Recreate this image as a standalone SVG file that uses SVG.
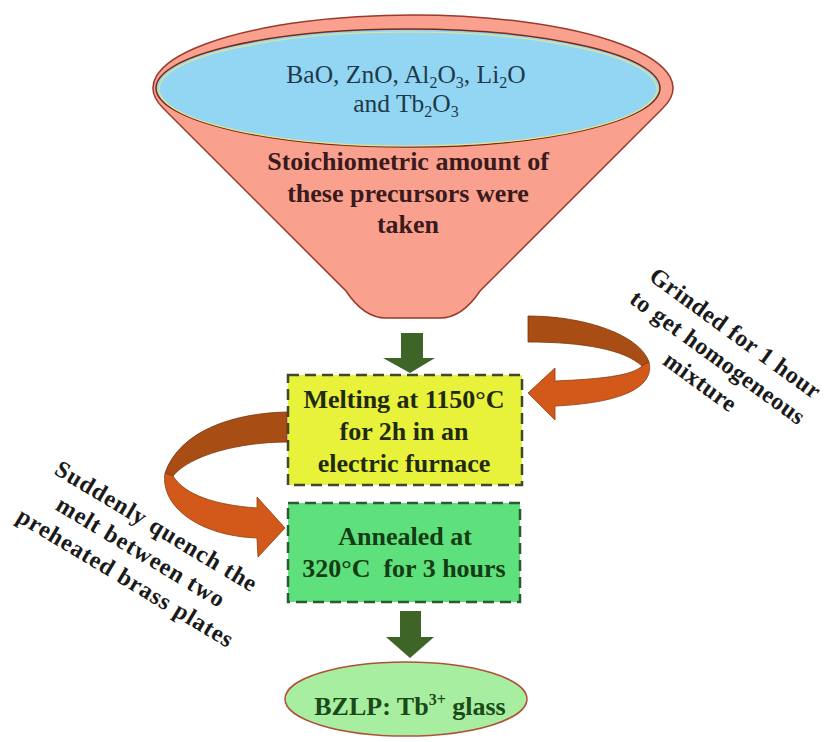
<svg xmlns="http://www.w3.org/2000/svg" width="830" height="742" viewBox="0 0 830 742">
<style>
text{font-family:"Liberation Serif","Times New Roman",serif;text-anchor:middle}
.b{font-weight:bold;font-size:26px}
.n{font-size:25.5px;fill:#1E3A4A}
.lab{font-weight:bold;font-size:24px;fill:#1a1a1a;letter-spacing:0.9px}
.gar{fill:#3E6428}
.back{fill:#A84E14;stroke:#7a350c;stroke-width:0.8}
.front{fill:#D2591A;stroke:#8a3c0e;stroke-width:0.8}
</style>
<rect width="830" height="742" fill="#ffffff"/>
<g id="funnel">
<path d="M163,108 A260,73 0 1 1 663,108 L480,291 Q462,318 440,318 L386,318 Q364,318 346,291 Z" fill="#F9A08F" stroke="#9b3a2a" stroke-width="1.5"/>
<ellipse cx="408" cy="88" rx="252" ry="59" fill="#93D6F3" stroke="#7a2a1a" stroke-width="1.5"/>
<ellipse cx="408" cy="89" rx="249" ry="57" fill="none" stroke="#E6E48A" stroke-width="1.2"/>
<text class="n" x="406" y="83">BaO, ZnO, Al<tspan font-size="16" dy="5">2</tspan><tspan dy="-5">O</tspan><tspan font-size="16" dy="5">3</tspan><tspan dy="-5">, Li</tspan><tspan font-size="16" dy="5">2</tspan><tspan dy="-5">O</tspan></text>
<text class="n" x="406" y="112">and Tb<tspan font-size="16" dy="5">2</tspan><tspan dy="-5">O</tspan><tspan font-size="16" dy="5">3</tspan></text>
<text class="b" x="408" y="170" fill="#3A1A1A">Stoichiometric amount of</text>
<text class="b" x="408" y="202" fill="#3A1A1A">these precursors were</text>
<text class="b" x="408" y="233" fill="#3A1A1A">taken</text>
</g>
<g id="melting">
<rect x="288" y="375" width="234" height="110" fill="#E8F23A" stroke="#3d4a2a" stroke-width="2.5" stroke-dasharray="11 6"/>
<text class="b" x="404" y="408" fill="#1f2a10">Melting at 1150°C</text>
<text class="b" x="404" y="440" fill="#1f2a10">for 2h in an</text>
<text class="b" x="404" y="472" fill="#1f2a10">electric furnace</text>
</g>
<g id="annealing">
<rect x="288" y="503" width="232" height="99" fill="#5EE07C" stroke="#2d5a33" stroke-width="2.5" stroke-dasharray="11 6"/>
<text class="b" x="405" y="545" fill="#143c14">Annealed at</text>
<text class="b" x="404" y="577" fill="#143c14" xml:space="preserve">320°C  for 3 hours</text>
</g>
<g id="product">
<ellipse cx="406" cy="699" rx="121" ry="37" fill="#A8EEA0" stroke="#B0503A" stroke-width="1.5"/>
<text class="b" x="410" y="715" fill="#1a4a1a">BZLP: Tb<tspan font-size="16" dy="-10">3+</tspan><tspan dy="10"> glass</tspan></text>
</g>
<g id="label-grinding" transform="translate(735,334) rotate(36)">
<text class="lab" x="0" y="7" style="letter-spacing:0.5px">Grinded for 1 hour</text>
<text class="lab" x="0" y="37" style="letter-spacing:0.5px">to get homogeneous</text>
<text class="lab" x="0" y="67" style="letter-spacing:0.5px">mixture</text>
</g>
<g id="label-quench" transform="translate(156,527) rotate(31)">
<text class="lab" x="0" y="7">Suddenly quench the</text>
<text class="lab" x="0" y="37">melt between two</text>
<text class="lab" x="0" y="67">preheated brass plates</text>
</g>
<g id="connectors">
<polygon class="gar" points="401,333 423,333 423,358 435,358 410,373 383,358 401,358"/>
<polygon class="gar" points="400,611 421,611 421,637 434,637 410,658 386,637 400,637"/>
<path class="back" d="M528,316 C585,316 640,335 649,362 L642,366 C625,350 585,342 528,342 Z"/>
<path class="front" d="M649,362 C655,388 620,403 555,406 L555,420 L528,393 L555,368 L555,381 C600,379 632,376 642,366 Z"/>
<path class="back" d="M287,412 C235,413 180,430 165,473 L173,476 C190,455 240,442 287,442 Z"/>
<path class="front" d="M165,473 C160,507 200,536 257,538 L258,557 L285,528 L257,497 L257,508 C215,505 185,495 173,476 Z"/>
</g>
</svg>
